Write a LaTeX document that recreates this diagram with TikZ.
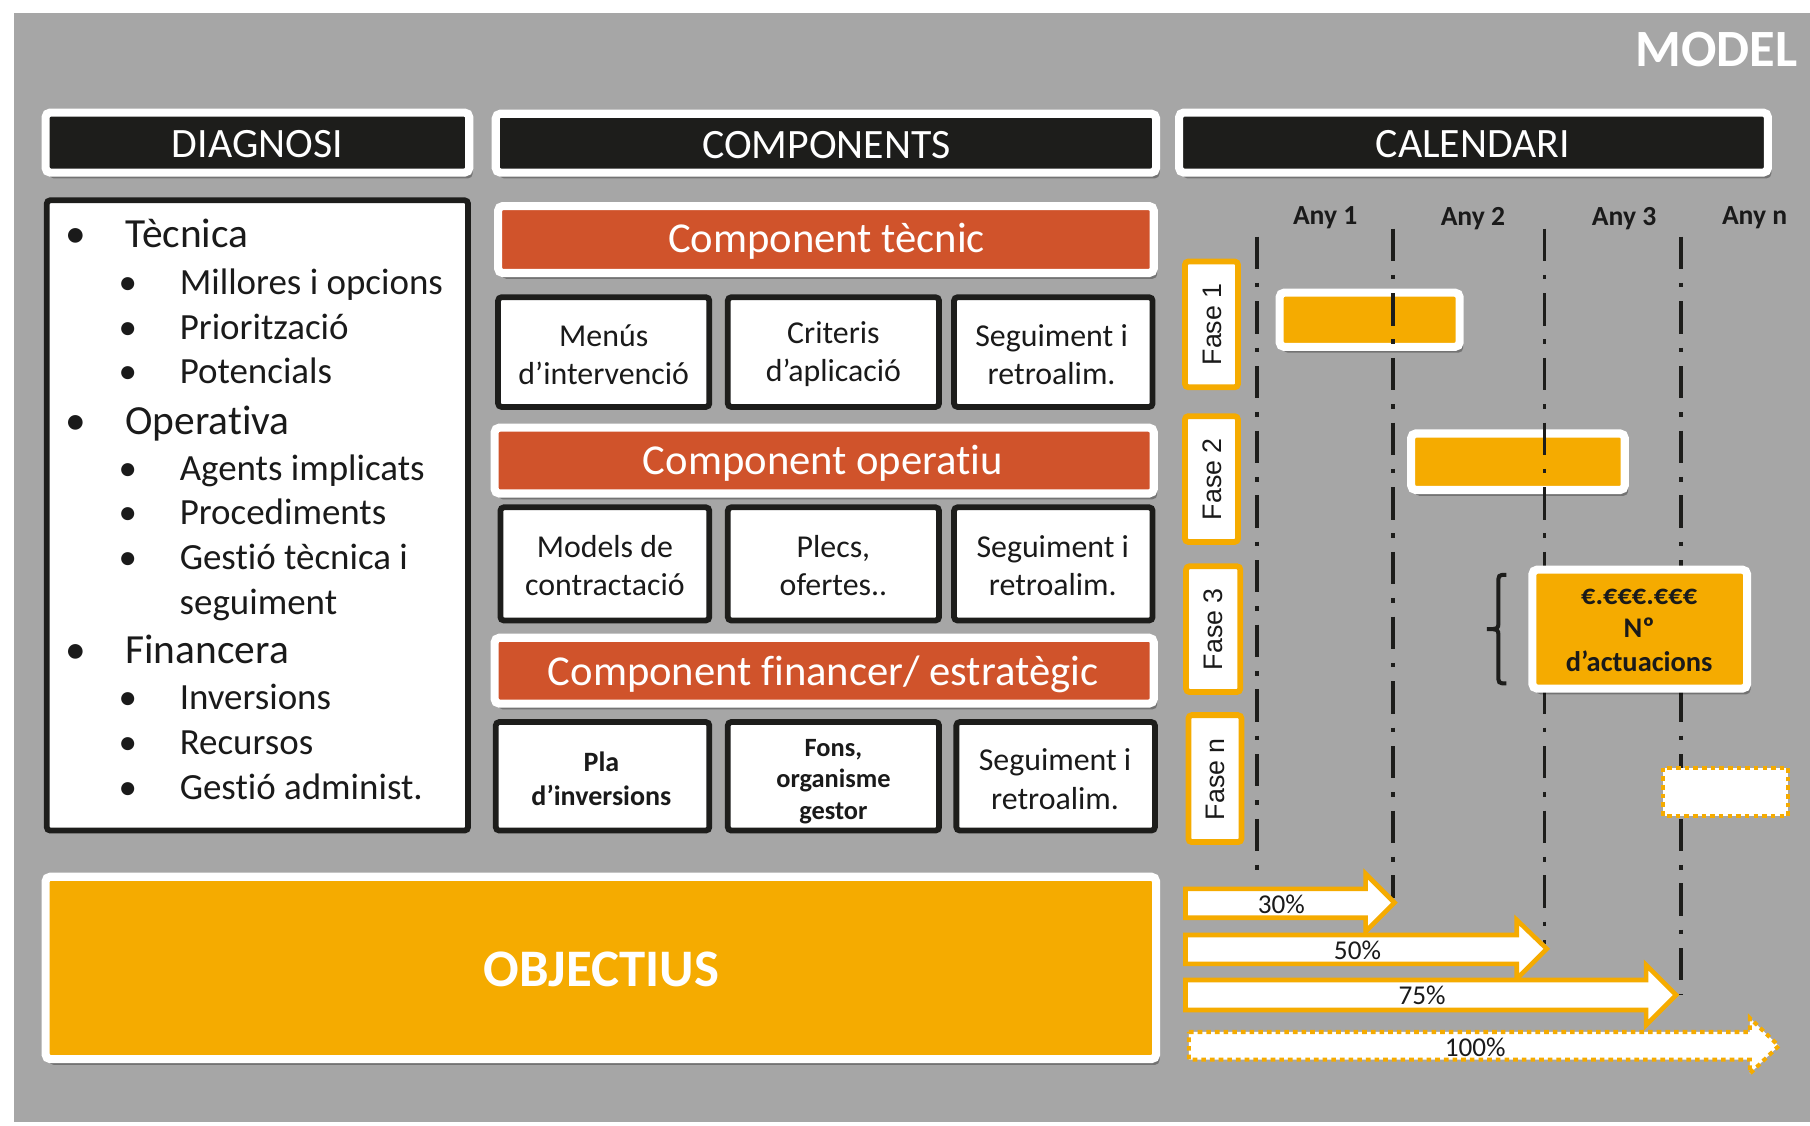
\documentclass[tikz,border=0pt]{standalone}
\usepackage{fontspec}
\setmainfont{Carlito}[Ligatures=NoCommon]
\newfontfamily\fasefont{Liberation Sans}
\usetikzlibrary{shadows}

\definecolor{fonsgris}{RGB}{166,166,166}
\definecolor{negre}{RGB}{29,29,27}
\definecolor{vermell}{RGB}{208,83,43}
\definecolor{groc}{RGB}{245,171,0}
\definecolor{tinta}{RGB}{26,26,26}

\newcommand{\mida}[2]{\fontsize{#1}{#2}\selectfont}

\begin{document}
\begin{tikzpicture}[x=0.01cm, y=-0.01cm,
    ombra/.style={drop shadow={shadow xshift=0.3mm, shadow yshift=-0.5mm, opacity=0.3, fill=black}},
    capsal/.style={fill=negre, draw=white, line width=0.7mm, rounded corners=0.4mm, ombra},
    bandera/.style={fill=vermell, draw=white, line width=0.7mm, rounded corners=0.4mm, ombra},
    caixa/.style={fill=white, draw=negre, line width=0.5mm, rounded corners=0.3mm},
    barra/.style={fill=groc, draw=white, line width=0.7mm, rounded corners=0.4mm, ombra},
    fase/.style={fill=white, draw=groc, line width=0.5mm, rounded corners=0.3mm},
    anyline/.style={draw=negre, line width=0.33mm, dash pattern=on 2.8mm off 1.2mm on 0.4mm off 1.2mm},
    fletxa/.style={fill=white, draw=groc, line width=0.4mm},
    titol/.style={text=white, font=\mida{10.3}{12}},
    nivell1/.style={anchor=base west, inner sep=0, text=tinta, font=\mida{10.2}{12}},
    nivell2/.style={anchor=base west, inner sep=0, text=tinta, font=\mida{9.1}{11}},
    comp/.style={text=white, font=\mida{10.5}{12}},
    etiq/.style={text=tinta, align=center, font=\mida{7.85}{9.4}},
    etiqb/.style={text=tinta, align=center, font=\bfseries\mida{6.9}{8.4}},
    anyt/.style={text=tinta, font=\bfseries\mida{6.8}{8}},
    pct/.style={text=tinta, inner sep=0, font=\mida{6.7}{8}},
    fasetext/.style={rotate=90, text=tinta, font=\fasefont\mida{6.6}{8}}]

    \useasboundingbox (0,0) rectangle (1568,975);
    \fill[white] (0,0) rectangle (1568,975);
    \fill[fonsgris] (12,11) rectangle (1568,972);
    \node[anchor=base east, inner sep=0, text=white, font=\bfseries\mida{12.9}{14}] (model) at (1558,58) {MODEL};

    % capcaleres
    \draw[capsal] (39.5,97.5) rectangle (406.5,149.5);
    \draw[capsal] (429.5,98.5) rectangle (1001.5,149.5);
    \draw[capsal] (1021.5,97.5) rectangle (1531.5,149.5);
    \node[titol] (diag) at (223,125) {DIAGNOSI};
    \node[titol] (comps) at (716,126) {COMPONENTS};
    \node[titol] (cal) at (1276,125) {CALENDARI};

    % diagnosi
    \draw[caixa] (40.5,173.5) rectangle (405.5,719.5);
    \node[nivell1] (tec) at (56,214) {\makebox[5.2mm][l]{\textbullet}Tècnica};
    \node[nivell2] (mill) at (102,255) {\makebox[5.3mm][l]{\textbullet}Millores i opcions};
    \node[nivell2] (prio) at (102,294) {\makebox[5.3mm][l]{\textbullet}Priorització};
    \node[nivell2] (pot) at (102,332) {\makebox[5.3mm][l]{\textbullet}Potencials};
    \node[nivell1] (ope) at (56,376) {\makebox[5.2mm][l]{\textbullet}Operativa};
    \node[nivell2] (agents) at (102,416) {\makebox[5.3mm][l]{\textbullet}Agents implicats};
    \node[nivell2] (proc) at (102,454) {\makebox[5.3mm][l]{\textbullet}Procediments};
    \node[nivell2] (gest) at (102,493) {\makebox[5.3mm][l]{\textbullet}Gestió tècnica i};
    \node[nivell2] (seg) at (155,532) {seguiment};
    \node[nivell1] (fin) at (56,575) {\makebox[5.2mm][l]{\textbullet}Financera};
    \node[nivell2] (inv) at (102,615) {\makebox[5.3mm][l]{\textbullet}Inversions};
    \node[nivell2] (rec) at (102,654) {\makebox[5.3mm][l]{\textbullet}Recursos};
    \node[nivell2] (adm) at (102,693) {\makebox[5.3mm][l]{\textbullet}Gestió administ.};

    % components
    \draw[bandera] (431.5,178.5) rectangle (999.5,236.5);
    \node[comp] (ctec) at (716,209) {Component tècnic};
    \draw[caixa] (431.5,257.5) rectangle (614.5,352.5);
    \draw[caixa] (630.5,257.5) rectangle (813.5,352.5);
    \draw[caixa] (826.5,257.5) rectangle (998.5,352.5);
    \node[etiq] (menus) at (523,307) {Menús\\d’intervenció};
    \node[etiq] (crit) at (722,307) {Criteris\\d’aplicació};
    \node[etiq] (seg1) at (911,307) {Seguiment i\\retroalim.};

    \draw[bandera] (428.5,370.5) rectangle (999.5,427.5);
    \node[comp] (cope) at (713,401) {Component operatiu};
    \draw[caixa] (433.5,439.5) rectangle (614.5,537.5);
    \draw[caixa] (630.5,439.5) rectangle (813.5,537.5);
    \draw[caixa] (826.5,439.5) rectangle (998.5,537.5);
    \node[etiq] (models) at (524,490) {Models de\\contractació};
    \node[etiq] (plecs) at (722,490) {Plecs,\\ofertes..};
    \node[etiq] (seg2) at (912,490) {Seguiment i\\retroalim.};

    \draw[bandera] (428.5,552.5) rectangle (999.5,609.5);
    \node[comp] (cfin) at (713,584) {Component financer/ estratègic};
    \draw[caixa] (429.5,625.5) rectangle (614.5,719.5);
    \draw[caixa] (630.5,625.5) rectangle (813.5,719.5);
    \draw[caixa] (828.5,625.5) rectangle (1000.5,719.5);
    \node[etiqb] (pla) at (521,675) {Pla\\d’inversions};
    \node[etiqb, font=\bfseries\mida{6.5}{7.8}] (fons) at (722,677) {Fons,\\organisme\\gestor};
    \node[etiq] (seg3) at (914,675) {Seguiment i\\retroalim.};

    % objectius
    \draw[barra] (39.5,759.5) rectangle (1001.5,917.5);
    \node[text=white, font=\bfseries\mida{13}{15}] (obj) at (521,840) {OBJECTIUS};

    % calendari
    \node[anyt] (any1) at (1148,189) {Any 1};
    \node[anyt] (any2) at (1276,189) {Any 2};
    \node[anyt] (any3) at (1407,189) {Any 3};
    \node[anyt] (anyn) at (1520,189) {Any n};

    \draw[fase] (1026.5,226.5) rectangle (1072.5,335.5);
    \draw[fase] (1026.5,360.5) rectangle (1072.5,469.5);
    \draw[fase] (1027.5,490.5) rectangle (1074.5,599.5);
    \draw[fase] (1029.5,619.5) rectangle (1075.5,729.5);
    \node[fasetext] (f1) at (1050,281) {Fase 1};
    \node[fasetext] (f2) at (1050,415) {Fase 2};
    \node[fasetext] (f3) at (1051,545) {Fase 3};
    \node[fasetext] (fn) at (1053,675) {Fase n};

    \draw[barra] (1108.5,253.5) rectangle (1264.5,300.5);
    \draw[barra] (1222.5,375.5) rectangle (1407.5,424.5);

    \draw[anyline] (1089,205) -- (1089,762);
    \draw[anyline] (1207,198) -- (1207,778);
    \draw[anyline] (1338,198) -- (1338,818);
    \draw[anyline] (1456,205) -- (1456,862);

    \draw[barra] (1327.5,493.5) rectangle (1513.5,596.5);
    \node[text=tinta, align=center, font=\bfseries\mida{7}{8.3}] (import) at (1420,546) {€.€€€.€€€\\Nº\\d’actuacions};
    \draw[negre, line width=0.35mm] (1305,498) .. controls (1298,498) .. (1298,506) -- (1298,539)
        .. controls (1298,545) .. (1288,545) .. controls (1298,545) .. (1298,551) -- (1298,584)
        .. controls (1298,592) .. (1305,592);
    \draw[fill=white, draw=groc, line width=0.35mm, dash pattern=on 0.4mm off 0.35mm] (1441,665) rectangle (1549,707);

    % percentatges
    \draw[fletxa] (1027,770) -- (1183,770) -- (1183,757) -- (1208,782) -- (1183,807) -- (1183,795) -- (1027,795) -- cycle;
    \draw[fletxa] (1027,810) -- (1314,810) -- (1314,797) -- (1340,822) -- (1314,848) -- (1314,835) -- (1027,835) -- cycle;
    \draw[fletxa] (1027,849) -- (1426,849) -- (1426,836) -- (1452,862) -- (1426,888) -- (1426,875) -- (1027,875) -- cycle;
    \draw[fletxa, line width=0.35mm, dash pattern=on 0.4mm off 0.35mm] (1030,894) -- (1516,894) -- (1516,882)
        -- (1541,906) -- (1516,930) -- (1516,918) -- (1030,918) -- cycle;
    \node[pct] (p30) at (1110,783) {30\%};
    \node[pct] (p50) at (1176,823) {50\%};
    \node[pct] (p75) at (1232,862) {75\%};
    \node[pct] (p100) at (1278,907) {100\%};
\end{tikzpicture}
\end{document}
